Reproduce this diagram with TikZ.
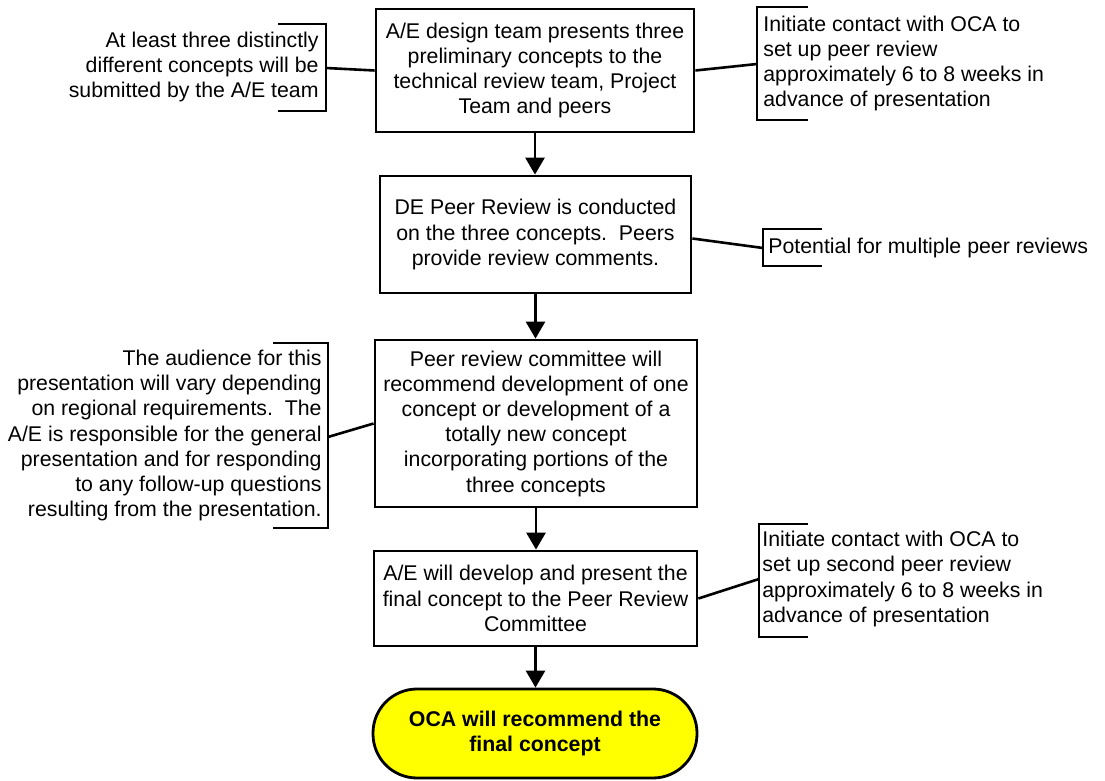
\documentclass[tikz,border=0pt]{standalone}
\usepackage{fontspec}
\setmainfont{Liberation Sans}
\usetikzlibrary{arrows.meta}
\definecolor{termyellow}{RGB}{255,255,0}
\begin{document}
\begin{tikzpicture}[x=0.5pt,y=-0.5pt,
  every node/.style={font=\fontsize{10.65}{12.6}\selectfont, inner sep=0pt},
  procbox/.style={draw, line width=1.4pt, align=center, fill=white},
  termbox/.style={draw, line width=1.4pt, align=center, fill=termyellow, rounded corners=22pt, font=\fontsize{10.65}{12.6}\selectfont\bfseries},
  flow/.style={line width=1.4pt, -{Triangle[length=8.5pt,width=9.5pt]}},
  link/.style={line width=1.3pt},
  brace/.style={line width=1.4pt},
  note/.style={inner sep=0pt}
]
\useasboundingbox (0,0) rectangle (1105,781);

% main flow boxes
\node[procbox, minimum width=159pt, minimum height=61.5pt] (b1) at (535,70.5)
  {A/E design team presents three\\preliminary concepts to the\\technical review team, Project\\Team and peers};
\node[procbox, minimum width=155.5pt, minimum height=58.5pt] (b2) at (535.5,234.5)
  {DE Peer Review is conducted\\on the three concepts.\ \ Peers\\provide review comments.};
\node[procbox, minimum width=161pt, minimum height=83.5pt] (b3) at (536,423.5)
  {Peer review committee will\\recommend development of one\\concept or development of a\\totally new concept\\incorporating portions of the\\three concepts};
\node[procbox, minimum width=161.5pt, minimum height=47.5pt] (b4) at (535.5,598.5)
  {A/E will develop and present the\\final concept to the Peer Review\\Committee};
\node[termbox, minimum width=162pt, minimum height=44.5pt] (t) at (535,733.5)
  {OCA will recommend the\\final concept};

\draw[flow] (b1.south) -- (b1.south |- b2.north);
\draw[flow] (b2.south) -- (b2.south |- b3.north);
\draw[flow] (b3.south) -- (b3.south |- b4.north);
\draw[flow] (b4.south) -- (b4.south |- t.north);

% annotations
\node[note, anchor=east, align=right] (n1) at (319,67)
  {At least three distinctly\\different concepts will be\\submitted by the A/E team};
\draw[brace] (278,24) -- (326,24) -- (326,111) -- (278,111);
\coordinate (br1) at (326,68);
\draw[link] (b1.west) -- (br1);

\node[note, anchor=west, align=left] (n2) at (763,63.5)
  {Initiate contact with OCA to\\set up peer review\\approximately 6 to 8 weeks in\\advance of presentation};
\draw[brace] (808,7) -- (757,7) -- (757,120) -- (808,120);
\coordinate (br2) at (757,64);
\draw[link] (b1.east) -- (br2);

\node[note, anchor=west, align=left] (n3) at (768,248)
  {Potential for multiple peer reviews};
\draw[brace] (822,229) -- (763,229) -- (763,266) -- (822,266);
\coordinate (br3) at (763,248);
\draw[link] ([yshift=-2pt]b2.east) -- (br3);

\node[note, anchor=east, align=right] (n4) at (322,435.5)
  {The audience for this\\presentation will vary depending\\on regional requirements.\ \ The\\A/E is responsible for the general\\presentation and for responding\\to any follow-up questions\\resulting from the presentation.};
\draw[brace] (273,343) -- (328,343) -- (328,528) -- (273,528);
\coordinate (br4) at (328,437);
\draw[link] (b3.west) -- (br4);

\node[note, anchor=west, align=left] (n5) at (762,579)
  {Initiate contact with OCA to\\set up second peer review\\approximately 6 to 8 weeks in\\advance of presentation};
\draw[brace] (808,524) -- (759,524) -- (759,637) -- (808,637);
\coordinate (br5) at (759,579);
\draw[link] (b4.east) -- (br5);
\end{tikzpicture}
\end{document}
